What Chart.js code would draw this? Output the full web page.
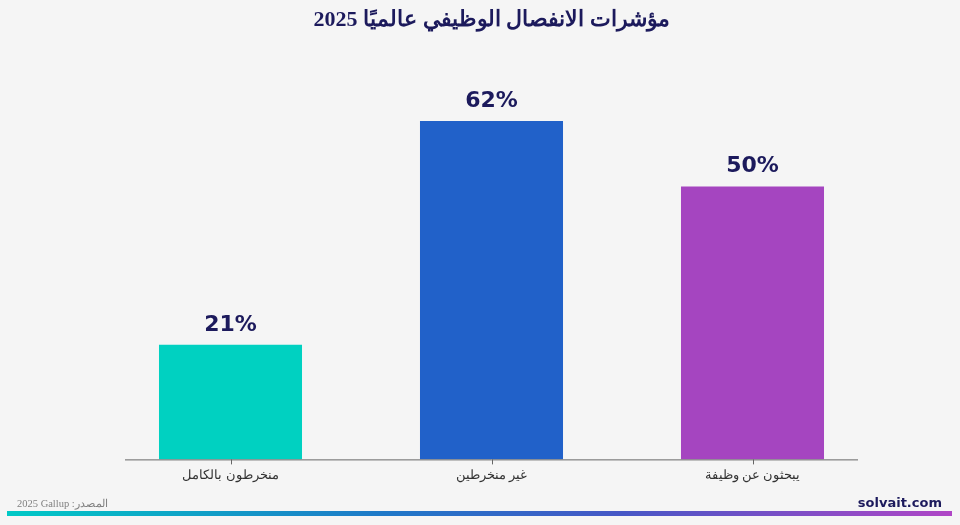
<!DOCTYPE html>
<html lang="ar">
<head>
<meta charset="UTF-8">
<title>مؤشرات الانفصال الوظيفي</title>
<script src="https://cdn.jsdelivr.net/npm/chart.js"></script>
<style>
  html, body { margin: 0; padding: 0; background: #f5f5f5; }
  .wrap { position: relative; width: 960px; height: 525px; }
  canvas { position: absolute; left: 0; top: 0; }
  .source {
    position: absolute; left: 17px; top: 497px;
    font-family: "Liberation Serif", serif; font-size: 10.5px; color: #808080;
    direction: ltr; unicode-bidi: isolate;
  }
  .brand {
    position: absolute; right: 18px; top: 495px;
    font-family: "DejaVu Sans", sans-serif; font-weight: bold; font-size: 13px; color: #1c1a5c;
  }
  .stripe {
    position: absolute; left: 7px; top: 511px; width: 945px; height: 5px;
    background: linear-gradient(to right, #00c9c6, #1f78c8 40%, #4657c6 65%, #b046c6);
  }
</style>
</head>
<body>
<div class="wrap">
  <canvas id="chart" width="960" height="525"></canvas>
  <div class="source">2025 Gallup :المصدر</div>
  <div class="brand">solvait.com</div>
  <div class="stripe"></div>
</div>
<script>
  const categories = ['منخرطون بالكامل', 'غير منخرطين', 'يبحثون عن وظيفة'];
  const percentValues = [21, 62, 50];
  const barColors = ['#00d1c1', '#2161c9', '#a545c0'];

  // baseline, tick marks and the % above each bar
  const valueLabels = {
    id: 'valueLabels',
    afterDatasetsDraw(chart) {
      const ctx = chart.ctx;
      const meta = chart.getDatasetMeta(0);
      const area = chart.chartArea;
      ctx.save();
      ctx.strokeStyle = '#666';
      ctx.lineWidth = 1;
      ctx.beginPath();
      ctx.moveTo(area.left + 25, area.bottom + 0.5);
      ctx.lineTo(area.right - 25, area.bottom + 0.5);
      meta.data.forEach(bar => {
        const x = Math.round(bar.x) + 0.5;
        ctx.moveTo(x, area.bottom);
        ctx.lineTo(x, area.bottom + 5);
      });
      ctx.stroke();

      ctx.font = 'bold 22px "DejaVu Sans", sans-serif';
      ctx.fillStyle = '#1c1a5c';
      ctx.textAlign = 'center';
      ctx.textBaseline = 'bottom';
      meta.data.forEach((bar, i) => {
        ctx.fillText(percentValues[i] + '%', bar.x, bar.y - 9);
      });
      ctx.restore();
    }
  };

  new Chart(document.getElementById('chart'), {
    type: 'bar',
    data: {
      labels: categories,
      datasets: [{
        data: percentValues,
        backgroundColor: barColors,
        categoryPercentage: 0.548,
        barPercentage: 1
      }]
    },
    options: {
      responsive: false,
      animation: false,
      layout: { padding: { top: 7, left: 100, right: 77, bottom: 42 } },
      plugins: {
        legend: { display: false },
        tooltip: { enabled: false },
        title: {
          display: true,
          text: 'مؤشرات الانفصال الوظيفي عالميًا 2025',
          color: '#1c1a5c',
          font: { family: '"Liberation Serif", serif', size: 22, weight: 'bold' },
          padding: { top: 0, bottom: 44 }
        }
      },
      scales: {
        x: {
          grid: { display: false },
          border: { display: false },
          ticks: {
            color: '#333',
            padding: 0,
            font: { family: '"Liberation Serif", serif', size: 13 }
          }
        },
        y: {
          display: false,
          min: 0,
          max: 70
        }
      }
    },
    plugins: [valueLabels]
  });
</script>
</body>
</html>
